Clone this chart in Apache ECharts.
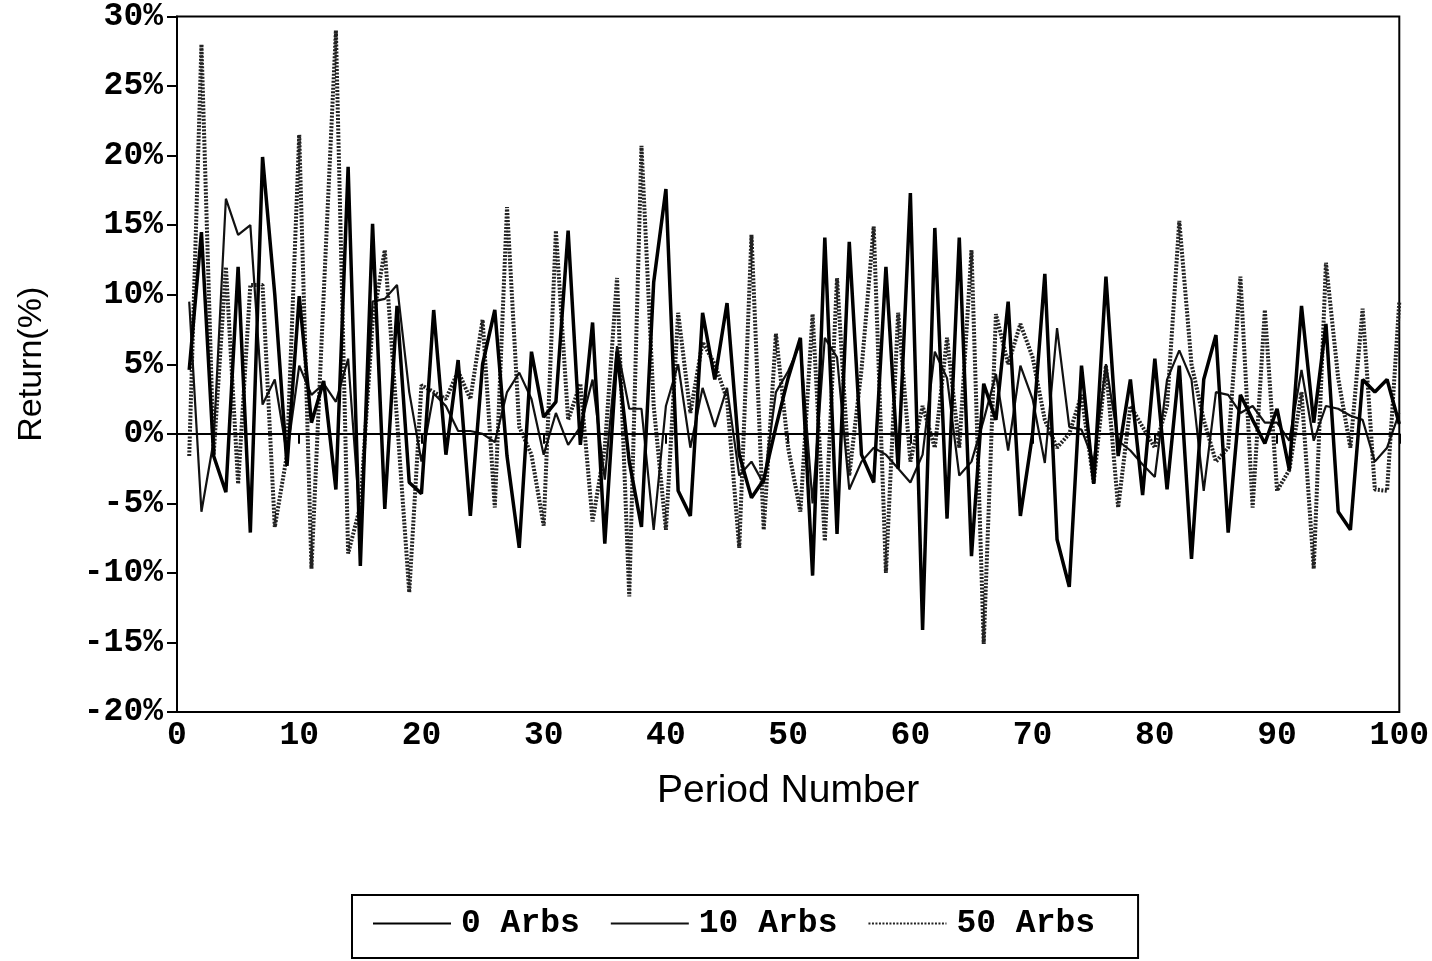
<!DOCTYPE html>
<html>
<head>
<meta charset="utf-8">
<title>Return by Period</title>
<script src="https://cdn.jsdelivr.net/npm/echarts@6/dist/echarts.min.js"></script>
<style>
  html, body { margin: 0; padding: 0; background: #fff; }
  #chart { width: 1432px; height: 961px; }
</style>
</head>
<body>
<div id="chart"></div>
<script>
// values, periods 1..100 (percent)
const arbs0 = [
  4.6, 14.5, -1.6, -4.2, 12, -7.1, 19.9, 10, -2.3, 9.9,
  0.8, 3.8, -4, 19.2, -9.5, 15.1, -5.4, 9.2, -3.5, -4.3,
  8.9, -1.5, 5.3, -5.9, 5, 8.9, -1.6, -8.2, 5.9, 1.2,
  2.3, 14.6, -0.8, 8, -7.9, 5.9, -2, -6.7, 10.9, 17.6,
  -4.1, -5.9, 8.7, 3.9, 9.4, -1.5, -4.6, -3.3, 0.5, 4,
  6.9, -10.2, 14.1, -7.2, 13.8, -1.5, -3.5, 12, -2.5, 17.3,
  -14.1, 14.8, -6.1, 14.1, -8.8, 3.6, 1, 9.5, -5.9, 0,
  11.5, -7.6, -11, 4.9, -3.6, 11.3, -1.6, 3.9, -4.4, 5.4,
  -4, 4.9, -9, 3.9, 7.1, -7.1, 2.8, 1, -0.7, 1.8,
  -2.6, 9.2, 0.8, 7.9, -5.6, -6.9, 3.9, 3, 3.9, 0.7
];
const arbs10 = [
  9.5, -5.6, -0.5, 16.9, 14.3, 15, 2.1, 3.9, -1.5, 4.9,
  2.8, 3.6, 2.3, 5.4, -6.6, 9.5, 9.7, 10.7, 3, -2,
  2.9, 2, 0.2, 0.2, 0, -0.6, 3, 4.4, 2.5, -1.5,
  1.5, -0.8, 0.5, 3.9, -3.3, 6.3, 1.8, 1.8, -6.9, 2,
  5, -1, 3.3, 0.5, 3.3, -3, -2, -3.6, 3, 4.5,
  6.5, -5, 6.9, 5.5, -4, -2, -1, -1.5, -2.5, -3.5,
  -1.5, 5.9, 4, -3, -2, 1, 4.3, -1.2, 4.9, 2.5,
  -2.1, 7.6, 0.5, 0.3, -2, 5, -0.5, -1.2, -2.2, -3.1,
  3.9, 6, 3.9, -4.1, 3, 2.8, 1.5, 2, 0.8, 0.8,
  -0.5, 4.6, -0.5, 2, 1.8, 1.3, 1, -2, -1, 1.5
];
const arbs50 = [
  -1.6, 28, -1.5, 12, -3.6, 10.7, 10.7, -6.7, -1.5, 21.5,
  -9.7, 10, 29, -8.6, -5.2, 8, 13.2, 1, -11.4, 3.5,
  3, 2.5, 4.5, 2.5, 8.2, -5.3, 16.3, 0.5, -1.5, -6.6,
  14.6, 1, 3.6, -6.3, -1, 11.2, -11.7, 20.7, 2, -6.9,
  8.7, 1.5, 6.6, 5, 2.5, -8.2, 14.3, -6.9, 7.2, -1,
  -5.6, 8.6, -7.7, 11.2, -3, 4.6, 14.9, -10, 8.7, -2,
  2, -1, 6.9, -1, 13.2, -15.1, 8.6, 5, 7.9, 5.5,
  1, -1, 0, 2.8, -3.5, 4.9, -5.3, 2, 0.5, -1,
  2, 15.3, 5, 1, -2, -1, 11.3, -5.3, 8.9, -4.1,
  -2.6, 3, -9.7, 12.3, 4, -1, 9, -4, -4.1, 9.5
];
const seriesNames = ['0 Arbs', '10 Arbs', '50 Arbs'];
const xTicks = [0, 100, 10];   // min, max, step
const yTicks = [-20, 30, 5];

// pair each value with its period number
const toPoints = arr => arr.map((v, i) => [i + 1, v]);

const monoFont = '"Liberation Mono", "Courier New", monospace';
const sansFont = '"Liberation Sans", Arial, sans-serif';

const chart = echarts.init(document.getElementById('chart'));

const option = {
  backgroundColor: '#fff',
  animation: false,
  grid: {
    left: 177,
    top: 13,
    width: 1223,
    height: 699,
    show: true,
    borderColor: '#000',
    borderWidth: 2
  },
  legend: {
    left: 352,
    top: 895,
    orient: 'horizontal',
    data: seriesNames,
    itemWidth: 78,
    itemHeight: 14,
    itemGap: 30,
    padding: [12, 43, 18, 20],
    borderColor: '#000',
    borderWidth: 2,
    // hide the symbol dot, keep only the line sample
    itemStyle: { opacity: 0 },
    textStyle: {
      fontFamily: monoFont,
      fontWeight: 'bold',
      fontSize: 33,
      color: '#000',
      padding: [0, 0, 0, 5]
    }
  },
  xAxis: {
    type: 'value',
    min: xTicks[0],
    max: xTicks[1],
    interval: xTicks[2],
    name: 'Period Number',
    nameLocation: 'middle',
    nameGap: 60,
    nameTextStyle: { fontFamily: sansFont, fontSize: 39, color: '#000' },
    axisLine: { lineStyle: { color: '#000', width: 2 } },
    axisTick: { inside: false, length: 10, lineStyle: { color: '#000', width: 2 } },
    axisLabel: {
      margin: 7,
      fontFamily: monoFont,
      fontWeight: 'bold',
      fontSize: 33,
      color: '#000'
    },
    splitLine: { show: false }
  },
  yAxis: {
    type: 'value',
    min: yTicks[0],
    max: yTicks[1],
    interval: yTicks[2],
    name: 'Return(%)',
    nameLocation: 'middle',
    nameRotate: 90,
    nameGap: 128,
    nameTextStyle: { fontFamily: sansFont, fontSize: 34, color: '#000' },
    axisLine: { show: true, onZero: false, lineStyle: { color: '#000', width: 2 } },
    axisTick: { show: true, inside: false, length: 10, lineStyle: { color: '#000', width: 2 } },
    axisLabel: {
      margin: 14,
      formatter: '{value}%',
      fontFamily: monoFont,
      fontWeight: 'bold',
      fontSize: 33,
      color: '#000'
    },
    splitLine: { show: false }
  },
  series: [
    {
      name: seriesNames[0],
      type: 'line',
      symbol: 'none',
      data: toPoints(arbs0),
      lineStyle: { color: '#000', width: 3.5, type: 'solid' },
      // zero reference line
      markLine: {
        silent: true,
        symbol: 'none',
        label: { show: false },
        lineStyle: { color: '#000', width: 1.5, type: 'solid' },
        data: [{ yAxis: 0 }]
      },
      z: 3
    },
    {
      name: seriesNames[1],
      type: 'line',
      symbol: 'none',
      data: toPoints(arbs10),
      lineStyle: { color: '#111', width: 2.2, type: 'solid' },
      z: 2
    },
    {
      name: seriesNames[2],
      type: 'line',
      symbol: 'none',
      data: toPoints(arbs50),
      lineStyle: { color: '#222', width: 4, type: [2, 1.5] },
      z: 1
    }
  ]
};

chart.setOption(option);
window.addEventListener('resize', () => chart.resize());
</script>
</body>
</html>
